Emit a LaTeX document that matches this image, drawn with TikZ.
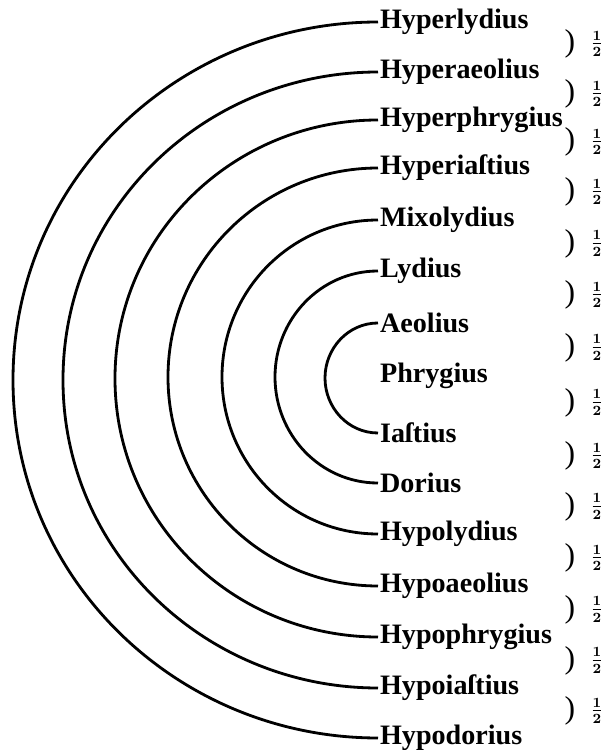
\documentclass[tikz,border=0pt]{standalone}
\usepackage{fontspec}
\setmainfont{Liberation Serif}
\usepackage{tikz}
\usetikzlibrary{calc}

\begin{document}
\begin{tikzpicture}[scale = 1]

\tikzstyle{mode}=[anchor = west, inner sep = 1pt, font = \bfseries\fontsize{16}{16}\selectfont]
\tikzstyle{brace}=[inner sep = 0pt, font = \fontsize{18}{18}\selectfont]
\tikzstyle{ratio}=[inner sep = 0pt, font = \large\boldmath]
\tikzstyle{ring}=[line width = 1.6pt, color = black]

\useasboundingbox (0, 0) rectangle (12.2, 15);

% leftmost points of the half rings
\coordinate (L1) at (0.26, 7.40);
\coordinate (L2) at (1.26, 7.40);
\coordinate (L3) at (2.30, 7.43);
\coordinate (L4) at (3.36, 7.46);
\coordinate (L5) at (4.44, 7.46);
\coordinate (L6) at (5.50, 7.46);
\coordinate (L7) at (6.50, 7.44);

\path
(7.56, 14.56) node[mode](hlyd) {Hyperlydius}
(7.56, 13.56) node[mode](haeo) {Hyperaeolius}
(7.56, 12.60) node[mode](hphr) {Hyperphrygius}
(7.56, 11.64) node[mode](hias) {Hyperiaſtius}
(7.56, 10.60) node[mode](mixo) {Mixolydius}
(7.56, 9.58) node[mode](lyd) {Lydius}
(7.56, 8.54) node[mode](aeo) {Aeolius}
(7.56, 7.48) node[mode](phr) {Phrygius}
(7.56, 6.34) node[mode](ias) {Iaſtius}
(7.56, 5.34) node[mode](dor) {Dorius}
(7.56, 4.32) node[mode](plyd) {Hypolydius}
(7.56, 3.28) node[mode](paeo) {Hypoaeolius}
(7.56, 2.26) node[mode](pphr) {Hypophrygius}
(7.56, 1.24) node[mode](pias) {Hypoiaſtius}
(7.56, 0.24) node[mode](pdor) {Hypodorius};

% half tones between neighbours
\path
(11.40, 14.12) node[brace](b1) {)}
(11.40, 13.12) node[brace](b2) {)}
(11.40, 12.16) node[brace](b3) {)}
(11.40, 11.16) node[brace](b4) {)}
(11.40, 10.13) node[brace](b5) {)}
(11.40, 9.10) node[brace](b6) {)}
(11.40, 8.05) node[brace](b7) {)}
(11.40, 6.95) node[brace](b8) {)}
(11.40, 5.88) node[brace](b9) {)}
(11.40, 4.87) node[brace](b10) {)}
(11.40, 3.84) node[brace](b11) {)}
(11.40, 2.81) node[brace](b12) {)}
(11.40, 1.79) node[brace](b13) {)}
(11.40, 0.78) node[brace](b14) {)};

\path
($(b1) + (0.54, 0)$) node[ratio](r1) {$\frac{1}{2}$}
($(b2) + (0.54, 0)$) node[ratio](r2) {$\frac{1}{2}$}
($(b3) + (0.54, 0)$) node[ratio](r3) {$\frac{1}{2}$}
($(b4) + (0.54, 0)$) node[ratio](r4) {$\frac{1}{2}$}
($(b5) + (0.54, 0)$) node[ratio](r5) {$\frac{1}{2}$}
($(b6) + (0.54, 0)$) node[ratio](r6) {$\frac{1}{2}$}
($(b7) + (0.54, 0)$) node[ratio](r7) {$\frac{1}{2}$}
($(b8) + (0.54, 0)$) node[ratio](r8) {$\frac{1}{2}$}
($(b9) + (0.54, 0)$) node[ratio](r9) {$\frac{1}{2}$}
($(b10) + (0.54, 0)$) node[ratio](r10) {$\frac{1}{2}$}
($(b11) + (0.54, 0)$) node[ratio](r11) {$\frac{1}{2}$}
($(b12) + (0.54, 0)$) node[ratio](r12) {$\frac{1}{2}$}
($(b13) + (0.54, 0)$) node[ratio](r13) {$\frac{1}{2}$}
($(b14) + (0.54, 0)$) node[ratio](r14) {$\frac{1}{2}$};

% half rings joining each mode to its partner
\draw[ring] (hlyd.west) to [out=180,in=90] (L1) to [out=270,in=180] (pdor.west);
\draw[ring] (haeo.west) to [out=180,in=90] (L2) to [out=270,in=180] (pias.west);
\draw[ring] (hphr.west) to [out=180,in=90] (L3) to [out=270,in=180] (pphr.west);
\draw[ring] (hias.west) to [out=180,in=90] (L4) to [out=270,in=180] (paeo.west);
\draw[ring] (mixo.west) to [out=180,in=90] (L5) to [out=270,in=180] (plyd.west);
\draw[ring] (lyd.west) to [out=180,in=90] (L6) to [out=270,in=180] (dor.west);
\draw[ring] (aeo.west) to [out=180,in=90] (L7) to [out=270,in=180] (ias.west);

\end{tikzpicture}
\end{document}
